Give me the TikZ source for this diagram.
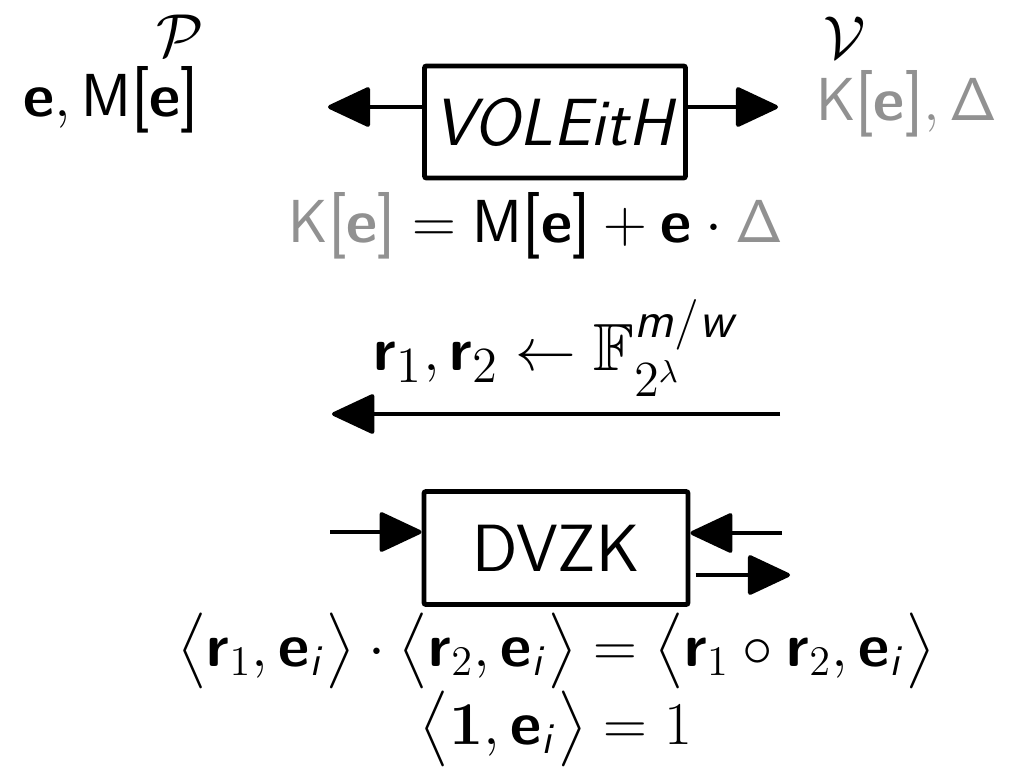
\documentclass[tikz,border=0pt]{standalone}
\usepackage{amsmath,amssymb}
\usepackage{tikz}
\usetikzlibrary{arrows.meta,positioning}
\DeclareMathAlphabet{\mathbsf}{OT1}{cmss}{bx}{n}
\DeclareMathAlphabet{\mathssl}{OT1}{cmss}{m}{sl}
\newcommand{\vece}{\mathbsf{e}}
\newcommand{\vecr}{\mathbsf{r}}
\newcommand{\ei}{\vece_{\mathssl{i}}}
\newcommand{\Mtag}{\mathsf{M}\text{\sffamily[}\vece\text{\sffamily]}}
\newcommand{\Ktag}{\mathsf{K}\text{\sffamily[}\vece\text{\sffamily]}}
\colorlet{keygray}{black!43}

\begin{document}
\begin{tikzpicture}[x=0.1mm, y=-0.1mm, font=\fontsize{19}{22}\selectfont, inner sep=1pt,
    func/.style={draw, line width=1.4pt, rounded corners=0.6pt, minimum width=26.1mm, minimum height=11.2mm},
    msg/.style={line width=1.2pt, -{Triangle[length=4.5mm, width=4.1mm, round]}}]
    \useasboundingbox (0,0) rectangle (1033,772);

    % parties
    \node (prover) at (180,36) {$\mathcal{P}$};
    \node (verifier) at (845,38) {$\mathcal{V}$};

    % VOLE in the head
    \node[func] (vole) at (555,122) {\textsf{\slshape VOLEitH}};
    \node[anchor=east] (pvals) at (203,100) {$\vece, \Mtag$};
    \node[anchor=west] (vvals) at (812,104) {$\color{keygray}\Ktag, \mathsf{\Delta}$};
    \coordinate (ptip) at (328,107);
    \coordinate (vtip) at (778,107);
    \draw[msg] (vole.west |- ptip) -- (ptip);
    \draw[msg] (vole.east |- vtip) -- (vtip);
    \node (corr) at (536,226) {$\textcolor{keygray}{\Ktag} = \Mtag + \vece \cdot \textcolor{keygray}{\mathsf{\Delta}}$};

    % challenge
    \node (chal) at (557,348) {$\vecr_1, \vecr_2 \leftarrow \mathbb{F}_{2^\lambda}^{\mathssl{m/w}}$};
    \coordinate (chstart) at (780,414);
    \coordinate (chend) at (332,414);
    \draw[msg, line width=1.1pt] (chstart) -- (chend);

    % DVZK
    \node[func, minimum width=26.4mm, minimum height=11.3mm] (dvzk) at (556,548) {\textsf{DVZK}};
    \coordinate (pin) at (330,532);
    \coordinate (vin) at (782,533);
    \coordinate (vout) at (790,575);
    \draw[msg] (pin) -- (dvzk.west |- pin);
    \draw[msg] (vin) -- (dvzk.east |- vin);
    \draw[msg, shorten <=1.5pt] (dvzk.east |- vout) -- (vout);
    \node[font=\fontsize{18}{22}\selectfont] (check) at (556,651) {$\big\langle \vecr_1, \ei \big\rangle \cdot \big\langle \vecr_2, \ei \big\rangle = \big\langle \vecr_1 \circ \vecr_2, \ei \big\rangle$};
    \node[font=\fontsize{18}{22}\selectfont] (one) at (556,729) {$\big\langle \mathbf{1}, \ei \big\rangle = 1$};
\end{tikzpicture}
\end{document}
